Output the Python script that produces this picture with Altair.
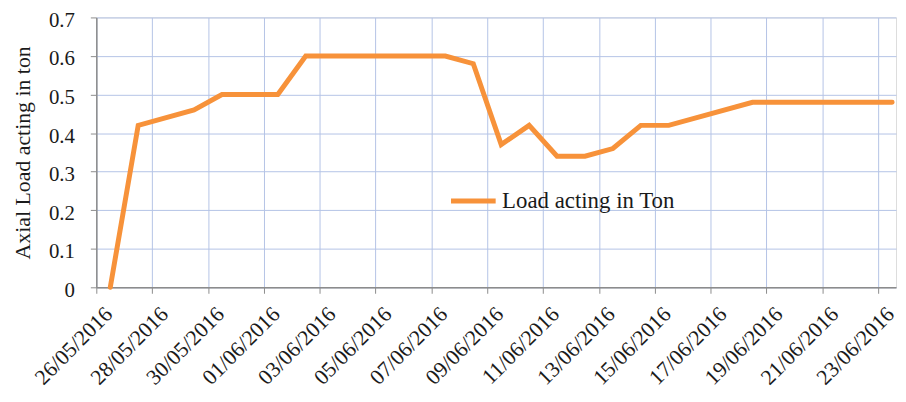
import altair as alt
import pandas as pd

# data (dd/mm/yyyy)
dates = ["26/05/2016", "27/05/2016", "29/05/2016", "30/05/2016", "01/06/2016",
         "02/06/2016", "07/06/2016", "08/06/2016", "09/06/2016", "10/06/2016",
         "11/06/2016", "12/06/2016", "13/06/2016", "14/06/2016", "15/06/2016",
         "18/06/2016", "23/06/2016"]
loads = [0.0, 0.42, 0.46, 0.50, 0.50,
         0.60, 0.60, 0.58, 0.37, 0.42,
         0.34, 0.34, 0.36, 0.42, 0.42,
         0.48, 0.48]
series_name = "Load acting in Ton"
tick_dates = ["26/05/2016", "28/05/2016", "30/05/2016", "01/06/2016", "03/06/2016",
              "05/06/2016", "07/06/2016", "09/06/2016", "11/06/2016", "13/06/2016",
              "15/06/2016", "17/06/2016", "19/06/2016", "21/06/2016", "23/06/2016"]
y_ticks = [0, 0.1, 0.2, 0.3, 0.4, 0.5, 0.6, 0.7]

# Excel category-style placement: points sit mid-day between the date ticks
df = pd.DataFrame({
    "date": (pd.to_datetime(dates, format="%d/%m/%Y") + pd.Timedelta(hours=12)).strftime("%Y-%m-%dT%H:%M:%S"),
    "load": loads,
    "series": series_name,
})

def dt(s):
    d, m, y = s.split("/")
    return alt.DateTime(year=int(y), month=int(m), date=int(d))

FONT = "Liberation Serif"
TXT = "#1a1a1a"
GRID = "#b4c4e6"
AXIS = "#8c8c8c"

chart = alt.Chart(df).mark_line(strokeWidth=5, strokeCap="round", strokeJoin="miter").encode(
    x=alt.X("date:T",
            scale=alt.Scale(domain=[alt.DateTime(year=2016, month=5, date=26),
                                    alt.DateTime(year=2016, month=6, date=23, hours=15, minutes=20)]),
            axis=alt.Axis(values=[dt(s) for s in tick_dates], format="%d/%m/%Y",
                          labelAngle=-45, labelAlign="right", labelBaseline="top",
                          labelFont=FONT, labelFontSize=22, labelColor=TXT,
                          labelPadding=10, labelOffset=5, labelOverlap=False, labelFlush=False,
                          tickSize=6, tickColor=AXIS, domainColor=AXIS,
                          domainWidth=1.5, grid=True, gridColor=GRID, gridWidth=1,
                          title=None)),
    y=alt.Y("load:Q",
            scale=alt.Scale(domain=[0, 0.7], nice=False, zero=True),
            axis=alt.Axis(values=y_ticks, format="~g", labelFont=FONT, labelFontSize=21,
                          labelColor=TXT, labelPadding=16, labelOffset=3, tickSize=6,
                          tickColor=AXIS, domainColor=AXIS, domainWidth=1.5,
                          grid=True, gridColor=GRID, gridWidth=1,
                          title="Axial Load acting in ton", titleFont=FONT,
                          titleFontSize=22, titleFontWeight="normal", titleColor=TXT,
                          titleLimit=400, titlePadding=14)),
    color=alt.Color("series:N",
                    scale=alt.Scale(range=["#F7923A"]),
                    legend=alt.Legend(title=None, orient="none", legendX=355, legendY=160,
                                      symbolType="stroke", symbolSize=2025,
                                      symbolStrokeWidth=5, labelFont=FONT,
                                      labelFontSize=23, labelColor=TXT, labelLimit=400,
                                      labelOffset=4, padding=0)),
).properties(
    width=806, height=272,
    autosize=alt.AutoSizeParams(type="none"),
    padding={"left": 89, "top": 8, "right": 2, "bottom": 104},
).configure_view(stroke=None).configure(background="white")

chart.save("out.html", embed_options={"renderer": "svg", "actions": False})
